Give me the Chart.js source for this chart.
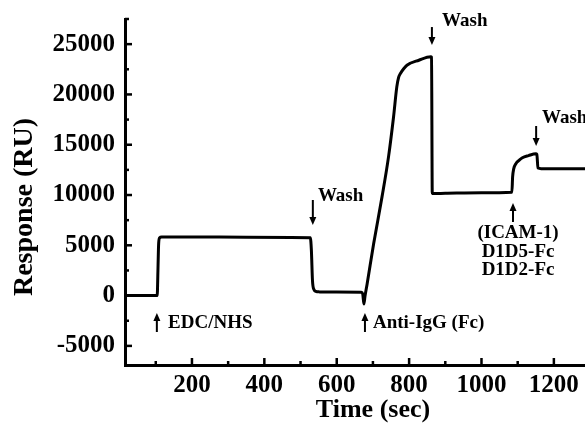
<!DOCTYPE html>
<html><head><meta charset="utf-8">
<script src="https://cdn.jsdelivr.net/npm/chart.js@4/dist/chart.umd.min.js"></script>
<style>html,body{margin:0;padding:0;background:#fff;overflow:hidden}</style>
</head><body>
<canvas id="c" width="585" height="431"></canvas>
<script>
// ---- data ----
const timeSec = [15,104,106,108,111,116,200,350,527,530,533,537,542,552,600,668,672,675,678,684,702,725,743,757,766,771,776,785,794,827,860,862,864,900,1000,1084,1086,1089,1095,1104,1113,1130,1150,1153,1156,1165,1290];
const responseRU = [0,0,2500,5200,5750,5830,5830,5800,5760,4500,1500,600,420,370,360,340,150,-830,-100,1165,5150,9790,13770,17760,20750,21700,22080,22550,22900,23400,23740,23700,10150,10170,10220,10280,11800,12600,13120,13450,13710,13920,14100,14050,12680,12620,12620];
const xTickValues = [200,400,600,800,1000,1200];
const yTickValues = [-5000,0,5000,10000,15000,20000,25000];
const xMinorTicks = [100,300,500,700,900,1100,1300];
const yMinorTicks = [-2500,2500,7500,12500,17500,22500,27500];
const xTitle = 'Time (sec)';
const yTitle = 'Response (RU)';
// injection / wash markers: arrow at time t from tailV to tipV, text anchored at (textT, textV)
const markerTexts = [['EDC/NHS'],['Wash'],['Anti-IgG (Fc)'],['Wash'],['(ICAM-1)','D1D5-Fc','D1D2-Fc'],['Wash']];
const markerArrowT = [103,534,678,863,1087,1151];
const markerTailV = [-3620,9505,-3620,26700,7320,16860];
const markerTipV  = [-1730,7020,-1730,24915,9207,14875];
const markerTextT = [134,548,700,891,1101,1167];
const markerTextV = [[-2720],[9900],[-2720],[27300],[6225,4335,2545],[17660]];
const markerAlign = ['left','left','left','left','center','left'];

const SERIF = "'Liberation Serif','Times New Roman',serif";

const overlay = {
  id: 'overlay',
  afterDraw(chart) {
    const ctx = chart.ctx, xs = chart.scales.x, ys = chart.scales.y, a = chart.chartArea;
    ctx.save();
    ctx.strokeStyle = '#000'; ctx.fillStyle = '#000'; ctx.lineWidth = 2.5; ctx.lineCap = 'butt';
    // inward ticks
    const tick = (x1,y1,x2,y2)=>{ctx.beginPath();ctx.moveTo(x1,y1);ctx.lineTo(x2,y2);ctx.stroke();};
    xTickValues.forEach(v=>{const p=xs.getPixelForValue(v); tick(p,a.bottom,p,a.bottom-7);});
    xMinorTicks.forEach(v=>{if(v<=xs.max){const p=xs.getPixelForValue(v); tick(p,a.bottom,p,a.bottom-4);}});
    yTickValues.forEach(v=>{const p=ys.getPixelForValue(v); tick(a.left,p,a.left+7,p);});
    yMinorTicks.forEach(v=>{if(v<=ys.max){const p=ys.getPixelForValue(v); tick(a.left,p,a.left+4,p);}});
    // markers
    ctx.font = "bold 19px " + SERIF;
    ctx.textBaseline = 'middle';
    markerTexts.forEach((lines,i)=>{
      const x = xs.getPixelForValue(markerArrowT[i]);
      const yT = ys.getPixelForValue(markerTailV[i]);
      const yP = ys.getPixelForValue(markerTipV[i]);
      const dir = Math.sign(yP - yT);
      ctx.lineWidth = 2;
      ctx.beginPath(); ctx.moveTo(x,yT); ctx.lineTo(x,yP - dir*6); ctx.stroke();
      ctx.beginPath(); ctx.moveTo(x,yP); ctx.lineTo(x-3.5,yP-dir*8); ctx.lineTo(x+3.5,yP-dir*8); ctx.closePath(); ctx.fill();
      ctx.textAlign = markerAlign[i];
      const tx = xs.getPixelForValue(markerTextT[i]);
      lines.forEach((s,j)=>{ctx.fillText(s, tx, ys.getPixelForValue(markerTextV[i][j]));});
    });
    // axis titles
    ctx.textAlign = 'center'; ctx.textBaseline = 'middle';
    ctx.font = "bold 26px " + SERIF;
    ctx.fillText(xTitle, 373, 410);
    ctx.save(); ctx.translate(25, 207); ctx.rotate(-Math.PI/2);
    ctx.font = "bold 28px " + SERIF;
    ctx.fillText(yTitle, 0, 0);
    ctx.restore();
    ctx.restore();
  }
};

new Chart(document.getElementById('c'), {
  type: 'line',
  data: {
    datasets: [{
      data: timeSec.map((t,i)=>({x:t, y:responseRU[i]})),
      borderColor: '#000', borderWidth: 3, pointRadius: 0,
      cubicInterpolationMode: 'monotone', borderJoinStyle: 'round', borderCapStyle: 'round'
    }]
  },
  options: {
    responsive: false, devicePixelRatio: 1, animation: false,
    layout: { padding: { top: 19, left: 0, right: 0, bottom: 0 } },
    plugins: { legend: { display: false }, tooltip: { enabled: false } },
    scales: {
      x: {
        type: 'linear', min: 15, max: 1286,
        afterBuildTicks: s => { s.ticks = xTickValues.map(v=>({value:v})); },
        ticks: { color: '#000', padding: 6, maxRotation: 0, autoSkip: false,
                 callback: v => String(v),
                 font: { family: SERIF, size: 25, weight: 'bold' } },
        grid: { display: false, drawTicks: false },
        border: { display: true, width: 3, color: '#000' },
        afterFit: s => { s.height = 66; s.paddingLeft = 0; s.paddingRight = 0; }
      },
      y: {
        min: -6900, max: 27500,
        afterBuildTicks: s => { s.ticks = yTickValues.map(v=>({value:v})); },
        ticks: { color: '#000', padding: 10, autoSkip: false,
                 callback: v => String(v),
                 font: { family: SERIF, size: 25, weight: 'bold' } },
        grid: { display: false, drawTicks: false },
        border: { display: true, width: 3, color: '#000' },
        afterFit: s => { s.width = 125; s.paddingTop = 0; s.paddingBottom = 0; }
      }
    }
  },
  plugins: [overlay]
});
</script>
</body></html>
